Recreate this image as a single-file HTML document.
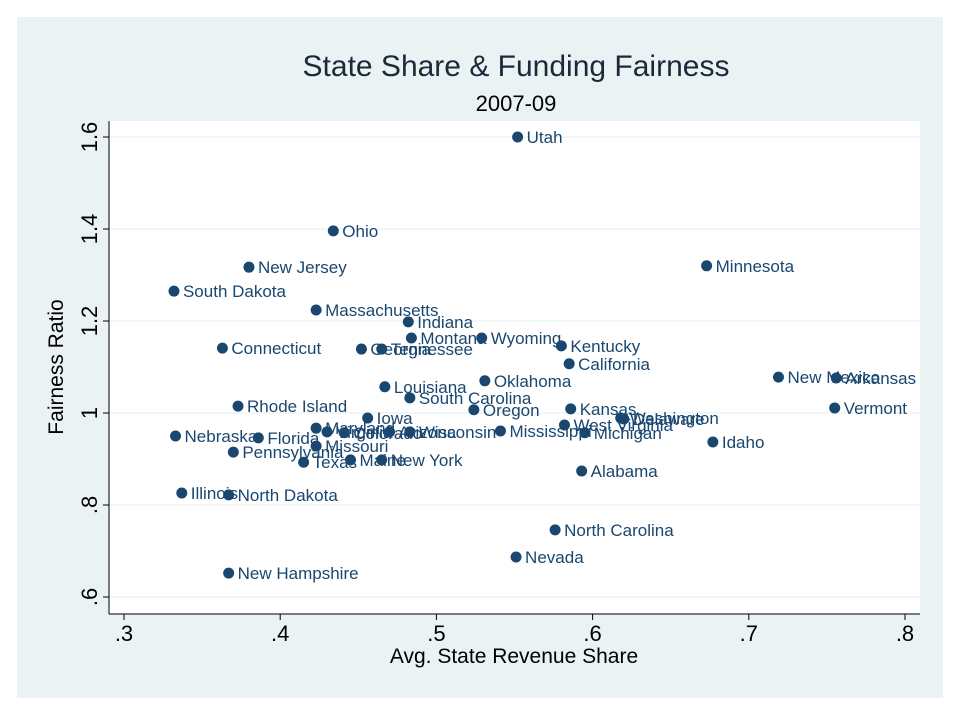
<!DOCTYPE html>
<html><head><meta charset="utf-8"><style>
body{margin:0;background:#eaf2f3;}
svg{display:block;font-family:"Liberation Sans",sans-serif;}
</style></head><body>
<svg id="chart" width="960" height="720">
<rect x="0" y="0" width="960" height="720" fill="#ffffff"/>
<rect x="17" y="17" width="926" height="681" fill="#eaf2f3"/>
<rect x="109" y="121" width="811" height="493" fill="#ffffff"/>
<text x="516" y="76" font-size="30" fill="#1a2a3a" text-anchor="middle">State Share &amp; Funding Fairness</text>
<text x="516" y="111" font-size="22" fill="#000" text-anchor="middle">2007-09</text>
<text x="514" y="663" font-size="21" fill="#000" text-anchor="middle">Avg. State Revenue Share</text>
<text x="0" y="0" font-size="21" fill="#000" text-anchor="middle" transform="translate(63,367) rotate(-90)">Fairness Ratio</text>
<g id="grid"></g><g id="axes"></g><g id="marks"></g>
</svg>
<script>
const states=["Utah","Ohio","New Jersey","Minnesota","South Dakota","Massachusetts","Indiana","Montana","Wyoming","Connecticut","Georgia","Tennessee","Kentucky","California","New Mexico","Arkansas","Louisiana","Oklahoma","South Carolina","Rhode Island","Oregon","Kansas","Vermont","Iowa","Washington","Delaware","West Virginia","Michigan","Idaho","Mississippi","Nebraska","Florida","Maryland","Virginia","Colorado","Arizona","Wisconsin","Missouri","Pennsylvania","Texas","Maine","New York","Alabama","Illinois","North Dakota","North Carolina","Nevada","New Hampshire"];
const stateShare=[.552,.434,.380,.673,.332,.423,.482,.484,.529,.363,.452,.465,.580,.585,.719,.756,.467,.531,.483,.373,.524,.586,.755,.456,.618,.620,.582,.595,.677,.541,.333,.386,.423,.430,.441,.470,.483,.423,.370,.415,.445,.465,.593,.337,.367,.576,.551,.367];
const fairness=[1.600,1.396,1.317,1.320,1.265,1.224,1.198,1.163,1.163,1.141,1.139,1.139,1.146,1.107,1.078,1.076,1.057,1.070,1.033,1.015,1.007,1.009,1.011,.989,.989,.987,.974,.957,.937,.961,.950,.946,.967,.959,.957,.959,.959,.928,.915,.893,.898,.898,.874,.826,.822,.746,.687,.652];
const xTicks=[.3,.4,.5,.6,.7,.8];
const xTickLabels=[".3",".4",".5",".6",".7",".8"];
const yTicks=[.6,.8,1,1.2,1.4,1.6];
const yTickLabels=[".6",".8","1","1.2","1.4","1.6"];
const NS="http://www.w3.org/2000/svg";
const X=v=>124+(v-.3)*1562;
const Y=v=>137+(1.6-v)*460;
function mk(tag,attrs,parent){const e=document.createElementNS(NS,tag);for(const k in attrs)e.setAttribute(k,attrs[k]);parent.appendChild(e);return e;}
const grid=document.getElementById('grid'),axes=document.getElementById('axes'),marks=document.getElementById('marks');
yTicks.forEach((t,i)=>{
 const g=mk('line',{x1:109,x2:920,y1:Y(t),y2:Y(t),stroke:'#eef3f4','stroke-width':1.5},grid);
 
 
 const tk=mk('line',{x1:103,x2:109,y1:Y(t),y2:Y(t),stroke:'#000'},axes);
 
 
 const tx=mk('text',{x:0,y:0,'font-size':22,'text-anchor':'middle',transform:`translate(97,${Y(t)}) rotate(-90)`},axes);
 tx.textContent=yTickLabels[i];
 
 
});
xTicks.forEach((t,i)=>{
 const tk=mk('line',{x1:X(t),x2:X(t),y1:614,y2:620,stroke:'#000'},axes);
 
 
 const tx=mk('text',{x:X(t),y:641,'font-size':22,'text-anchor':'middle'},axes);
 tx.textContent=xTickLabels[i];
 
 
});
const ya=mk('line',{x1:109,x2:109,y1:121,y2:614,stroke:'#000'},axes);


const xa=mk('line',{x1:109,x2:920,y1:614,y2:614,stroke:'#000'},axes);


states.forEach((s,i)=>{
 const cx=X(stateShare[i]),cy=Y(fairness[i]);
 const c=mk('circle',{cx:cx,cy:cy,r:5.5,fill:'#1a476f'},marks);
 
 
 const t=mk('text',{x:cx+9,y:cy+6,'font-size':17,fill:'#1a476f'},marks);
 t.textContent=s;
 
 
});
</script>
</body></html>
